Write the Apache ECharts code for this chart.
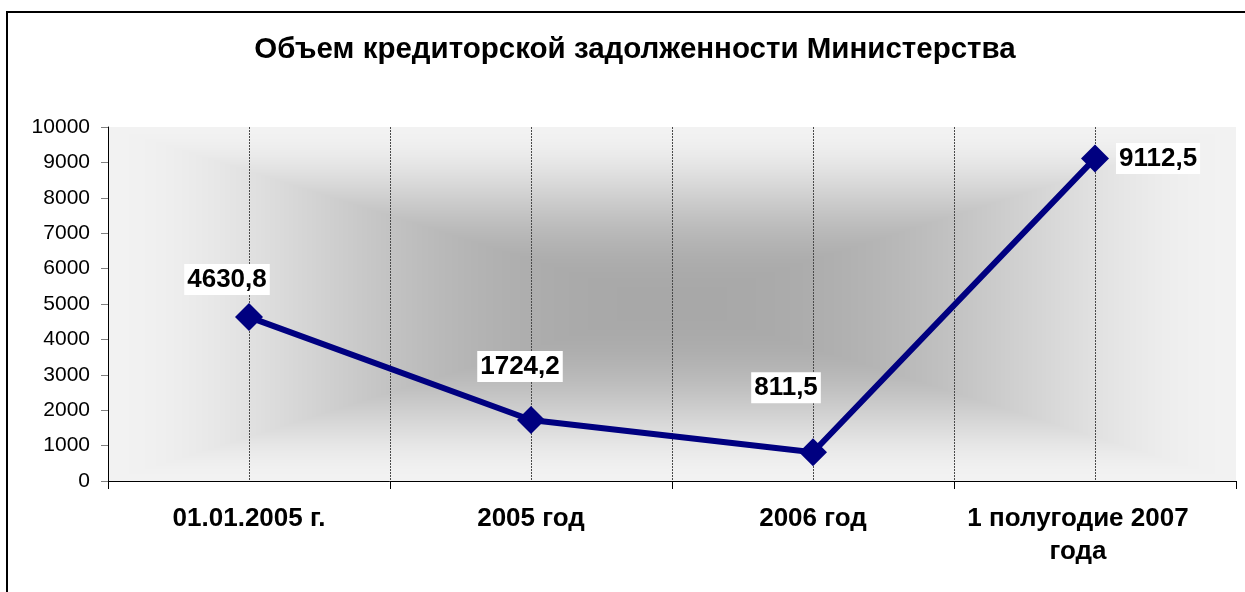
<!DOCTYPE html>
<html>
<head>
<meta charset="utf-8">
<script src="https://cdn.jsdelivr.net/npm/echarts@6/dist/echarts.min.js"></script>
<style>html,body{margin:0;padding:0;background:#fff;}#c{width:1245px;height:592px;}</style>
</head>
<body>
<div id="c"></div>
<script>
// ---- data ----
var titleText = 'Объем кредиторской задолженности Министерства';
var categories = ['01.01.2005 г.', '2005 год', '2006 год', '1 полугодие 2007 года'];
var values = [4630.8, 1724.2, 811.5, 9112.5];
var yMin = 0, yMax = 10000, yStep = 1000;

// ---- label placement (style, not data) ----
var labelPlacement = [
  {position: 'top', offset: [-22, -3]},
  {position: 'top', offset: [-11, -19]},
  {position: 'top', offset: [-27, -30]},
  {position: 'right', offset: [2, 0]}
];

var W = 1245, H = 592;
var G = {left: 108, right: 9, top: 127, bottom: 111};
var gx = G.left, gy = G.top, gw = W - G.left - G.right, gh = H - G.top - G.bottom;

// rectangular "from centre" gradient background for plot area
var cv = document.createElement('canvas');
cv.width = W; cv.height = H;
var ctx = cv.getContext('2d');
var img = ctx.createImageData(gw, gh);
var cx = gw / 2, cy = gh / 2;
for (var y = 0; y < gh; y++) {
  for (var x = 0; x < gw; x++) {
    var t = Math.max(Math.abs(x + 0.5 - cx) / cx, Math.abs(y + 0.5 - cy) / cy);
    t = Math.min(1, Math.pow(t, 1.3));
    var f = t * t * (3 - 2 * t);
    var v = Math.round(168 + (242 - 168) * f);
    var i = (y * gw + x) * 4;
    img.data[i] = v; img.data[i + 1] = v; img.data[i + 2] = v; img.data[i + 3] = 255;
  }
}
ctx.putImageData(img, gx, gy);

var FONT = '"Liberation Sans", Arial, sans-serif';
var chart = echarts.init(document.getElementById('c'), null, {renderer: 'canvas'});

var seriesData = values.map(function (v, i) {
  return {
    value: v,
    label: {position: labelPlacement[i].position, offset: labelPlacement[i].offset}
  };
});

var labelStyle = {fontFamily: FONT, fontSize: 26, fontWeight: 'bold', color: '#000', lineHeight: 33};

chart.setOption({
  animation: false,
  backgroundColor: '#fff',
  title: {
    text: titleText,
    left: 630,
    textAlign: 'center',
    top: 30,
    textStyle: {fontFamily: FONT, fontSize: 29.5, fontWeight: 'bold', color: '#000'}
  },
  graphic: [{
    type: 'rect',
    shape: {x: 7, y: 12, width: 1400, height: 800},
    style: {fill: null, stroke: '#000', lineWidth: 2},
    silent: true
  }],
  grid: {
    left: G.left, right: G.right, top: G.top, bottom: G.bottom,
    show: true, borderWidth: 0,
    backgroundColor: {image: cv, repeat: 'no-repeat'}
  },
  xAxis: [{
    type: 'category',
    data: categories,
    boundaryGap: true,
    axisLine: {lineStyle: {color: '#000', width: 1}},
    axisTick: {show: true, length: 8, lineStyle: {color: '#000'}},
    axisLabel: Object.assign({
      interval: 0, margin: 21, align: 'center',
      rich: {
        n: Object.assign({}, labelStyle),
        w: Object.assign({padding: [0, 34, 0, 0]}, labelStyle)
      },
      formatter: function (s) {
        if (s.length > 16) {
          var k = s.lastIndexOf(' ');
          return '{w|' + s.slice(0, k) + '}\n{w|' + s.slice(k + 1) + '}';
        }
        return '{n|' + s + '}';
      }
    }, labelStyle),
    splitLine: {show: false}
  }, {
    type: 'value',
    min: 0, max: categories.length * 2, interval: 1,
    position: 'bottom',
    axisLine: {show: false}, axisTick: {show: false}, axisLabel: {show: false},
    splitLine: {show: true, showMinLine: false, showMaxLine: false,
      lineStyle: {color: '#4a4a4a', width: 1, type: [2, 1]}}
  }],
  yAxis: {
    type: 'value',
    min: yMin, max: yMax, interval: yStep,
    axisLine: {show: true, lineStyle: {color: '#000', width: 1}},
    axisTick: {show: true, length: 7, lineStyle: {color: '#808080'}},
    axisLabel: {margin: 18, color: '#000', fontFamily: FONT, fontSize: 21,
      formatter: function (v) { return String(v); }},
    splitLine: {show: false}
  },
  series: [{
    type: 'line',
    xAxisIndex: 0,
    data: seriesData,
    symbol: 'diamond',
    symbolSize: 28,
    lineStyle: {color: '#000080', width: 6},
    itemStyle: {color: '#000080'},
    z: 5,
    label: {
      show: true,
      distance: 5,
      fontFamily: FONT, fontSize: 26, fontWeight: 'bold', color: '#000',
      backgroundColor: '#fff', padding: [3, 3, 2, 3],
      formatter: function (p) { return String(p.value).replace('.', ','); }
    }
  }]
});
</script>
</body>
</html>
